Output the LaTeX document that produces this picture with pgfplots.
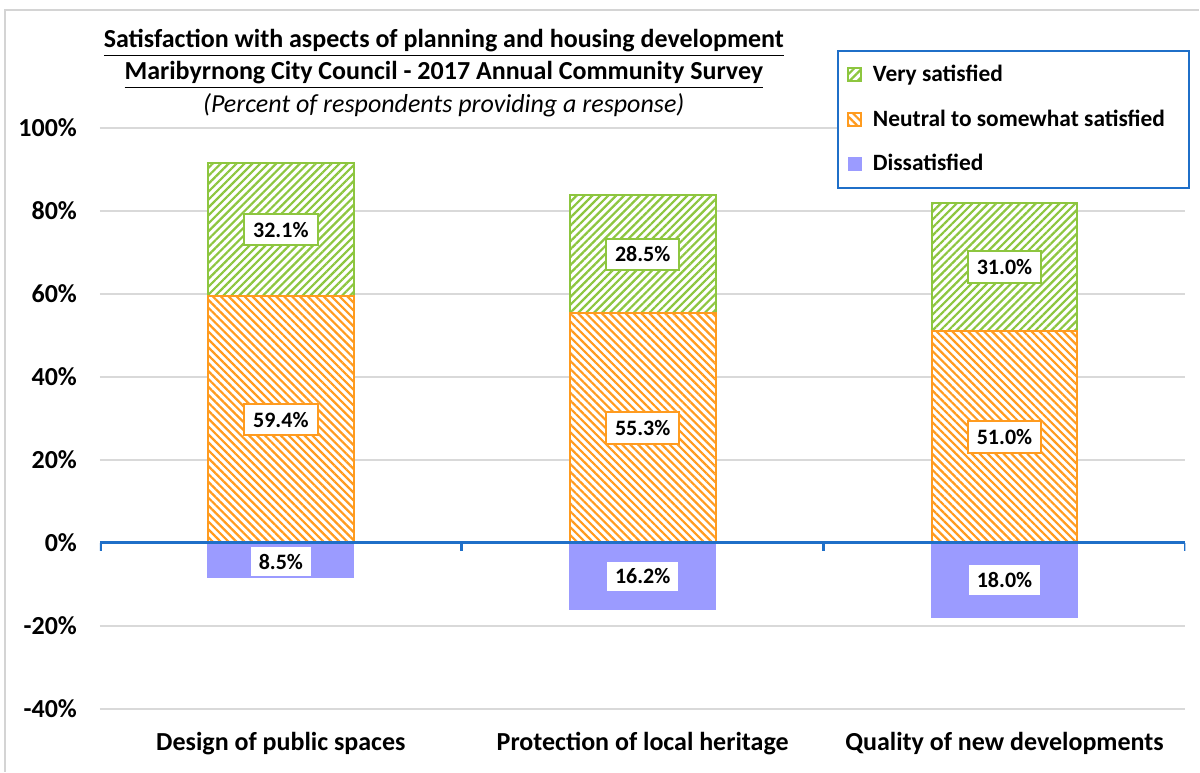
\documentclass[border=0pt]{standalone}
\usepackage{pgfplots}
\pgfplotsset{compat=1.18}
\usepackage{fontspec}
\setmainfont{Carlito}
\usetikzlibrary{patterns.meta}
\definecolor{vgreen}{HTML}{8DC63F}
\definecolor{norange}{HTML}{FF9B1F}
\definecolor{dpurple}{HTML}{9B9BFF}
\definecolor{axblue}{HTML}{1F6FC8}
\definecolor{gridgray}{HTML}{D9D9D9}
\definecolor{framegray}{HTML}{D4D4D4}
\tikzset{
  vsat/.style={draw=vgreen, line width=1pt, preaction={fill=white}, pattern={Lines[angle=45,distance=2.8pt,line width=1.1pt]}, pattern color=vgreen},
  neut/.style={draw=norange, line width=1pt, preaction={fill=white}, pattern={Lines[angle=-45,distance=2.8pt,line width=1.1pt]}, pattern color=norange},
  diss/.style={draw=dpurple, fill=dpurple, line width=0.5pt},
}
\pgfplotsset{
  sqleg/.style={legend image code/.code={\draw[##1,line width=0.6pt] (0pt,-3.3pt) rectangle (6.6pt,3.3pt);}},
  samebox/.style={at={(50pt,31.5pt)}, anchor=south west,
    scale only axis, width=543pt, height=290.5pt,
    xmin=-0.5, xmax=2.5, ymin=-40, ymax=100},
}
\begin{document}
\begin{tikzpicture}
\path (0pt,0pt) rectangle (600pt,386pt);
\draw[framegray, line width=0.6pt] (2.5pt,0pt) -- (2.5pt,381pt) -- (600pt,381pt);
\node[font=\bfseries\fontsize{13}{15}\selectfont] at (222pt,364.5pt) {\underline{Satisfaction with aspects of planning and housing development}};
\node[font=\bfseries\fontsize{13}{15}\selectfont] at (222pt,348.5pt) {\underline{Maribyrnong City Council - 2017 Annual Community Survey}};
\node[font=\itshape\fontsize{13}{15}\selectfont] at (222pt,333.5pt) {(Percent of respondents providing a response)};
\begin{axis}[
  samebox,
  ybar stacked, bar width=73pt,
  ytick={-40,-20,0,20,40,60,80,100},
  yticklabel={\pgfmathprintnumber{\tick}\%},
  /pgf/number format/assume math mode=true,
  ymajorgrids, grid style={gridgray, line width=0.9pt},
  xtick={0,1,2},
  xticklabels={Design of public spaces, Protection of local heritage, Quality of new developments},
  axis line style={draw=none}, major tick length=0pt,
  ticklabel style={font=\bfseries\fontsize{13}{15}\selectfont},
  yticklabel style={xshift=-8pt},
  xticklabel style={yshift=-8.5pt},
  legend style={at={(1.004,1.134)}, anchor=north east, draw=axblue, line width=1pt,
    font=\bfseries\fontsize{11.7}{13}\selectfont, row sep=8.6pt, inner xsep=5pt, inner ysep=5pt,
    cells={anchor=west}, /tikz/every odd column/.append style={column sep=3.5pt}},
]
\addlegendimage{vsat, sqleg}\addlegendentry{Very satisfied}
\addlegendimage{neut, sqleg}\addlegendentry{\makebox[151pt][l]{Neutral to somewhat satisfied}}
\addlegendimage{diss, sqleg}\addlegendentry{Dissatisfied}
\addplot[neut, forget plot] coordinates {(0,59.4) (1,55.3) (2,51.0)};
\addplot[vsat, forget plot] coordinates {(0,32.1) (1,28.5) (2,31.0)};
\end{axis}
\begin{axis}[samebox, hide axis, ybar, bar width=73pt]
\addplot[diss, bar shift=0pt] coordinates {(0,-8.5) (1,-16.2) (2,-18.0)};
\draw[axblue, line width=1.6pt] (axis cs:-0.5,0) -- (axis cs:2.5,0);
\draw[axblue, line width=1.6pt] (axis cs:-0.5,0) -- ++(0pt,-4pt);
\draw[axblue, line width=1.6pt] (axis cs:0.5,0) -- ++(0pt,-4pt);
\draw[axblue, line width=1.6pt] (axis cs:1.5,0) -- ++(0pt,-4pt);
\draw[axblue, line width=1.6pt] (axis cs:2.5,0) -- ++(0pt,-4pt);
\end{axis}
\begin{axis}[
  samebox, hide axis,
  nodes near coords, point meta=explicit symbolic,
  nodes near coords style={anchor=center, fill=white, line width=1pt, font=\bfseries\fontsize{11}{13}\selectfont, inner xsep=4.5pt, inner ysep=4pt},
]
\addplot[draw=none, mark=none, nodes near coords style={draw=vgreen}] coordinates {(0,75.45)[32.1\%] (1,69.55)[28.5\%] (2,66.5)[31.0\%]};
\addplot[draw=none, mark=none, nodes near coords style={draw=norange}] coordinates {(0,29.7)[59.4\%] (1,27.65)[55.3\%] (2,25.5)[51.0\%]};
\addplot[draw=none, mark=none, nodes near coords style={draw=dpurple}] coordinates {(0,-4.6)[8.5\%] (1,-8.1)[16.2\%] (2,-9.0)[18.0\%]};
\end{axis}
\end{tikzpicture}
\end{document}
